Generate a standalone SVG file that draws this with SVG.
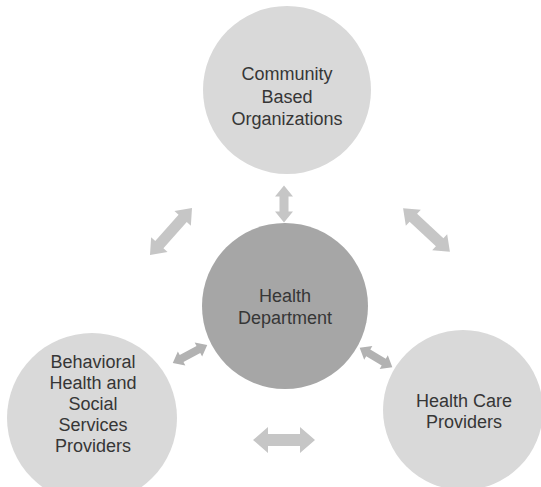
<svg xmlns="http://www.w3.org/2000/svg" width="541" height="487" viewBox="0 0 541 487">
<style>
.outer{fill:#d9d9d9}
.center{fill:#a6a6a6}
.lbl{font-family:"Liberation Sans","Open Sans",sans-serif;font-size:18px;fill:#363636;text-anchor:middle}
.arr{fill:#c6c6c6}
.arr2{fill:#b2b2b2}
</style>
<rect width="541" height="487" fill="#ffffff"/>
<g id="connectors">
<polygon class="arr" transform="translate(284,204) rotate(90)" points="-18.5,0 -7.5,-9 -7.5,-4.5 7.5,-4.5 7.5,-9 18.5,0 7.5,9 7.5,4.5 -7.5,4.5 -7.5,9"/>
<polygon class="arr" transform="translate(171,231.5) rotate(-48.2)" points="-31.5,0 -17.5,-11 -17.5,-5.5 17.5,-5.5 17.5,-11 31.5,0 17.5,11 17.5,5.5 -17.5,5.5 -17.5,11"/>
<polygon class="arr" transform="translate(426.5,230) rotate(43)" points="-32,0 -18,-11 -18,-5.5 18,-5.5 18,-11 32,0 18,11 18,5.5 -18,5.5 -18,11"/>
<polygon class="arr2" transform="translate(190,354) rotate(-27.9)" points="-19.5,0 -9.5,-8 -9.5,-4 9.5,-4 9.5,-8 19.5,0 9.5,8 9.5,4 -9.5,4 -9.5,8"/>
<polygon class="arr2" transform="translate(376,357.5) rotate(30.7)" points="-19,0 -9,-8 -9,-4 9,-4 9,-8 19,0 9,8 9,4 -9,4 -9,8"/>
<polygon class="arr" transform="translate(284,440)" points="-31,0 -16,-13 -16,-6 16,-6 16,-13 31,0 16,13 16,6 -16,6 -16,13"/>
</g>
<g id="community">
<circle class="outer" cx="287" cy="90" r="84"/>
<text class="lbl" x="287" y="80">Community</text>
<text class="lbl" x="287" y="103">Based</text>
<text class="lbl" x="287" y="125">Organizations</text>
</g>
<g id="health-department">
<circle class="center" cx="285" cy="306" r="83"/>
<text class="lbl" x="285" y="302">Health</text>
<text class="lbl" x="285" y="324">Department</text>
</g>
<g id="behavioral">
<circle class="outer" cx="92" cy="418" r="85"/>
<text class="lbl" x="93" y="368">Behavioral</text>
<text class="lbl" x="93" y="389">Health and</text>
<text class="lbl" x="93" y="410">Social</text>
<text class="lbl" x="93" y="431">Services</text>
<text class="lbl" x="93" y="452">Providers</text>
</g>
<g id="health-care">
<circle class="outer" cx="463" cy="410" r="80"/>
<text class="lbl" x="464" y="407">Health Care</text>
<text class="lbl" x="464" y="428">Providers</text>
</g>
</svg>
